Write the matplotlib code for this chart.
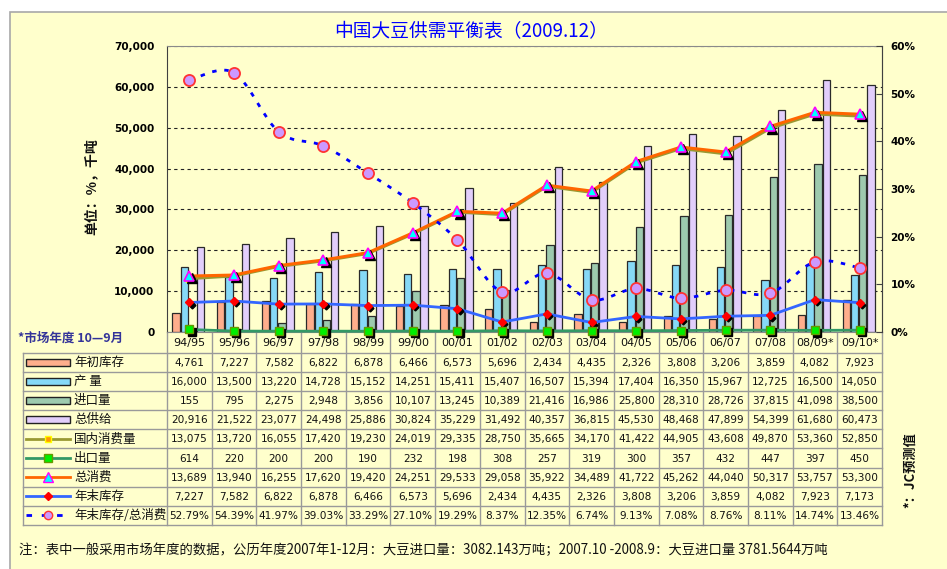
import matplotlib
matplotlib.use('Agg')
import matplotlib.pyplot as plt
import matplotlib.transforms as mtransforms
from matplotlib.path import Path
from matplotlib.patches import PathPatch, Rectangle
import numpy as np

plt.rcParams['font.family'] = ['Noto Sans CJK SC', 'DejaVu Sans']

# ---------------- data ----------------
years = ['94/95', '95/96', '96/97', '97/98', '98/99', '99/00', '00/01', '01/02',
         '02/03', '03/04', '04/05', '05/06', '06/07', '07/08', '08/09*', '09/10*']
begin_stock = [4761, 7227, 7582, 6822, 6878, 6466, 6573, 5696, 2434, 4435, 2326, 3808, 3206, 3859, 4082, 7923]
production = [16000, 13500, 13220, 14728, 15152, 14251, 15411, 15407, 16507, 15394, 17404, 16350, 15967, 12725, 16500, 14050]
imports = [155, 795, 2275, 2948, 3856, 10107, 13245, 10389, 21416, 16986, 25800, 28310, 28726, 37815, 41098, 38500]
total_supply = [20916, 21522, 23077, 24498, 25886, 30824, 35229, 31492, 40357, 36815, 45530, 48468, 47899, 54399, 61680, 60473]
domestic_cons = [13075, 13720, 16055, 17420, 19230, 24019, 29335, 28750, 35665, 34170, 41422, 44905, 43608, 49870, 53360, 52850]
exports = [614, 220, 200, 200, 190, 232, 198, 308, 257, 319, 300, 357, 432, 447, 397, 450]
total_cons = [13689, 13940, 16255, 17620, 19420, 24251, 29533, 29058, 35922, 34489, 41722, 45262, 44040, 50317, 53757, 53300]
end_stock = [7227, 7582, 6822, 6878, 6466, 6573, 5696, 2434, 4435, 2326, 3808, 3206, 3859, 4082, 7923, 7173]
stock_ratio = [52.79, 54.39, 41.97, 39.03, 33.29, 27.10, 19.29, 8.37, 12.35, 6.74, 9.13, 7.08, 8.76, 8.11, 14.74, 13.46]

row_labels = ['年初库存', '产 量', '进口量', '总供给', '国内消费量', '出口量', '总消费', '年末库存', '年末库存/总消费']
left_ticks = [0, 10000, 20000, 30000, 40000, 50000, 60000, 70000]
right_ticks = [0, 10, 20, 30, 40, 50, 60]

title = '中国大豆供需平衡表（2009.12）'
ylabel = '单位：%，千吨'
right_note = '*：JC预测值'
season_note = '*市场年度 10—9月'
foot_note = '注：表中一般采用市场年度的数据，公历年度2007年1-12月：大豆进口量：3082.143万吨；2007.10 -2008.9：大豆进口量 3781.5644万吨'

# ---------------- styling ----------------
BG = '#FFFFCC'
c_begin, c_prod, c_imp, c_sup = '#FFAE8C', '#86D9F7', '#9DCAAE', '#E2CEFB'
c_dom, c_exp, c_tot, c_end, c_ratio = '#999933', '#339966', '#FF6600', '#3366FF', '#0000FF'

W, H = 947, 569
fig = plt.figure(figsize=(W / 100, H / 100), dpi=100)
fig.patch.set_facecolor('white')
frame = Rectangle((10 / W, -0.05), 1.0, 1.05 - 12 / H, transform=fig.transFigure,
                  facecolor=BG, edgecolor='#A8A8A8', lw=1.2, zorder=-10)
fig.patches.append(frame)

L, R, T, B = 167, 882, 46, 332
ax = fig.add_axes([L / W, 1 - B / H, (R - L) / W, (B - T) / H])
ax.set_facecolor(BG)
n = len(years)
x = np.arange(n)
ax.set_xlim(-0.5, n - 0.5)
ax.set_ylim(0, 70000)
ax.set_yticks(left_ticks)
ax.set_yticklabels([f'{v:,}' for v in left_ticks], fontfamily='DejaVu Sans',
                   fontweight='bold', fontsize=7.5)
ax.tick_params(axis='y', length=0, pad=9)
ax.set_xticks([])
ax.yaxis.grid(True, linestyle=(0, (3, 3)), color='#222222', lw=0.8)
ax.set_axisbelow(True)
for s in ['top', 'right', 'bottom']:
    ax.spines[s].set_color('#8A8A8A')
ax.spines['left'].set_color('#404040')

# bars
offs = [-0.30, -0.115, 0.07, 0.255]
bw = 0.165
for vals, off, fc in zip([begin_stock, production, imports, total_supply], offs,
                         [c_begin, c_prod, c_imp, c_sup]):
    ax.bar(x + off, vals, bw, color=fc, edgecolor='#2A2A2A', lw=0.9, zorder=2)

shadow = ax.transData + mtransforms.ScaledTranslation(2.2 / 100, -2.2 / 100, fig.dpi_scale_trans)

# domestic consumption
ax.plot(x, domestic_cons, color=c_dom, lw=2.2, zorder=4)
ax.plot(x, domestic_cons, ls='none', marker='s', ms=5, mfc='#FF9900', mec='#FFFF00', zorder=4)
# total consumption
ax.plot(x, total_cons, color=c_tot, lw=2.2, zorder=5)
ax.plot(x, total_cons, ls='none', marker='^', ms=7, mfc='black', mec='black', transform=shadow, zorder=5)
ax.plot(x, total_cons, ls='none', marker='^', ms=7.5, mfc='#00FFFF', mec='#FF00FF', mew=1.2, zorder=6)
# ending stock
ax.plot(x, end_stock, color=c_end, lw=2, zorder=5)
ax.plot(x, end_stock, ls='none', marker='D', ms=3.5, mfc='black', mec='black', transform=shadow, zorder=5)
ax.plot(x, end_stock, ls='none', marker='D', ms=4.5, mfc='#FF0000', mec='#FF0000', zorder=6)
# exports
ax.plot(x, exports, color=c_exp, lw=2, zorder=5, clip_on=False)
ax.plot(x, exports, ls='none', marker='s', ms=6, mfc='black', mec='black', transform=shadow,
        zorder=5, clip_on=False)
ax.plot(x, exports, ls='none', marker='s', ms=6, mfc='#00EE00', mec='#669900', mew=1, zorder=6, clip_on=False)

# ratio on right axis
ax2 = ax.twinx()
ax2.set_ylim(0, 60)
ax2.set_yticks(right_ticks)
ax2.set_yticklabels([f'{v}%' for v in right_ticks], fontfamily='DejaVu Sans',
                    fontweight='bold', fontsize=7.5)
ax2.tick_params(axis='y', direction='in', length=4, pad=6, color='#404040')
for s in ['top', 'left', 'bottom']:
    ax2.spines[s].set_visible(False)
ax2.spines['right'].set_color('#404040')


def smooth_path(xs, ys, t=1 / 6):
    pts = np.column_stack([xs, ys]).astype(float)
    verts = [pts[0]]
    codes = [Path.MOVETO]
    m = len(pts)
    for i in range(m - 1):
        p0 = pts[i - 1] if i > 0 else pts[i]
        p1, p2 = pts[i], pts[i + 1]
        p3 = pts[i + 2] if i + 2 < m else pts[i + 1]
        verts += [p1 + (p2 - p0) * t, p2 - (p3 - p1) * t, p2]
        codes += [Path.CURVE4] * 3
    return Path(verts, codes)


ax2.add_patch(PathPatch(smooth_path(x, stock_ratio), fill=False, edgecolor=c_ratio, lw=2,
                        linestyle=(0, (1.6, 2.8)), zorder=3))
ax2.plot(x, stock_ratio, ls='none', marker='o', ms=8, mfc='#CC99FF', mec='#FF3333', mew=1.3, zorder=4)

# ---------------- table ----------------
ov = fig.add_axes([0, 0, 1, 1], zorder=-1)
ov.set_xlim(0, W)
ov.set_ylim(H, 0)
ov.axis('off')
colw = (R - L) / n
row_top = 352.7
rh = 19.15
tab_left = 23.3
tab_bot = row_top + len(row_labels) * rh
gc = '#9A9A9A'
for k in range(len(row_labels) + 1):
    y = row_top + k * rh
    ov.plot([tab_left, R], [y, y], color=gc, lw=1)
ov.plot([tab_left, tab_left], [row_top, tab_bot], color=gc, lw=1)
for j in range(n + 1):
    xx = L + j * colw
    ov.plot([xx, xx], [B, tab_bot], color=gc, lw=1)

for j, yr in enumerate(years):
    ov.text(L + (j + 0.5) * colw, (B + row_top) / 2 + 1, yr, ha='center', va='center',
            fontsize=8, fontfamily='DejaVu Sans', color='#111111')

table_rows = [begin_stock, production, imports, total_supply, domestic_cons, exports,
              total_cons, end_stock, stock_ratio]
for k, vals in enumerate(table_rows):
    yc = row_top + (k + 0.5) * rh
    for j, v in enumerate(vals):
        s = f'{v:.2f}%' if k == len(table_rows) - 1 else f'{v:,}'
        ov.text(L + (j + 0.5) * colw, yc + 0.5, s, ha='center', va='center', fontsize=7.6,
                fontfamily='DejaVu Sans', color='#111111')
    ov.text(74, yc, row_labels[k], ha='left', va='center', fontsize=9, color='#111111')

# legend keys
kx0, kx1 = 26, 70
for k, fc in enumerate([c_begin, c_prod, c_imp, c_sup]):
    yc = row_top + (k + 0.5) * rh
    ov.add_patch(Rectangle((kx0, yc - 3.5), kx1 - kx0, 7, facecolor=fc, edgecolor='#222222', lw=1))
key_specs = [
    (4, c_dom, 's', 5, '#FF9900', '#FFFF00'),
    (5, c_exp, 's', 5.5, '#00EE00', '#669900'),
    (6, c_tot, '^', 6.5, '#00FFFF', '#FF00FF'),
    (7, c_end, 'D', 4, '#FF0000', '#FF0000'),
]
for k, col, mk, ms, mfc, mec in key_specs:
    yc = row_top + (k + 0.5) * rh
    ov.plot([kx0, kx1], [yc, yc], color=col, lw=2)
    ov.plot([(kx0 + kx1) / 2], [yc], marker=mk, ms=ms, mfc=mfc, mec=mec, ls='none')
yc = row_top + 8.5 * rh
ov.plot([kx0, kx1], [yc, yc], color=c_ratio, lw=2, linestyle=(0, (2, 3.5)))
ov.plot([(kx0 + kx1) / 2], [yc], marker='o', ms=6, mfc='#CC99FF', mec='#FF3333', ls='none')

# ---------------- texts ----------------
fig.text(471 / W, 1 - 32 / H, title, color='#0000FF', fontsize=13.5, ha='center', va='center')
fig.text(92 / W, 1 - 187 / H, ylabel, rotation=90, ha='center', va='center', fontsize=10,
         fontweight='bold', color='#111111')
fig.text(910 / W, 1 - 470 / H, right_note, rotation=90, ha='center', va='center', fontsize=9.5,
         fontweight='bold', color='#111111')
fig.text(18 / W, 1 - 338 / H, season_note, ha='left', va='center', fontsize=9,
         fontweight='bold', color='#333399')
fig.text(19 / W, 1 - 550 / H, foot_note, ha='left', va='center', fontsize=9.6, color='#111111')

fig.savefig('out.png', dpi=100, facecolor=fig.get_facecolor())
